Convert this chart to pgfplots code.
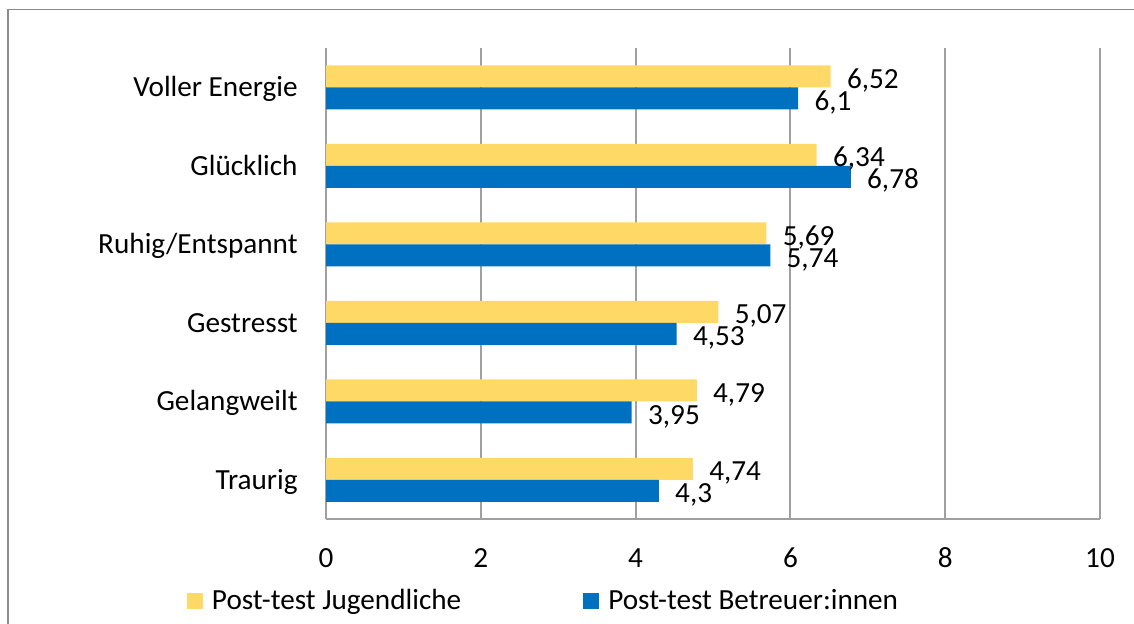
\documentclass[border=0pt]{standalone}
\usepackage{fontspec}
\setmainfont{Carlito}
\usepackage{pgfplots}
\pgfplotsset{compat=1.18}
\definecolor{jug}{HTML}{FFD966}
\definecolor{bet}{HTML}{0070C0}
\definecolor{gridc}{HTML}{A0A0A0}
\definecolor{framec}{HTML}{8C8C8C}
\begin{document}
\begin{tikzpicture}
\useasboundingbox (0,0) rectangle (567pt,-311.5pt);
\draw[framec, line width=0.8pt] (4pt,-320pt) -- (4pt,-4.75pt) -- (580pt,-4.75pt);
\begin{axis}[
  at={(163pt,-259.5pt)}, anchor=south west,
  scale only axis, width=387pt, height=235.5pt,
  font=\fontsize{14.6}{17}\selectfont,
  xmin=0, xmax=10, xtick={0,2,...,10},
  ymin=-0.5, ymax=5.5, ytick={0,...,5},
  yticklabels={Traurig,Gelangweilt,Gestresst,Ruhig/Entspannt,Glücklich,Voller Energie},
  axis x line*=bottom, axis y line*=left,
  axis line style={gridc, line width=1pt, -},
  major tick length=0pt,
  xmajorgrids, major grid style={gridc, line width=1pt},
  xticklabel style={anchor=base, inner sep=0pt, yshift=-24pt},
  yticklabel style={anchor=base east, inner sep=0pt, xshift=-14pt, yshift=-4.75pt},
  /pgf/number format/.cd, use comma, assume math mode=true, /pgfplots/.cd,
  point meta=x,
  nodes near coords,
  nodes near coords style={anchor=base west, inner sep=0pt, xshift=8pt, black},
  legend columns=2,
  legend style={draw=none, fill=none, inner sep=0pt, outer sep=0pt,
    at={(-0.1796,-0.174)}, anchor=west,
    nodes={inner sep=0pt},
    /tikz/every odd column/.append style={column sep=4.5pt},
    /tikz/every even column/.append style={column sep=61pt}},
  legend image code/.code={\fill[#1] (0pt,-4pt) rectangle (8pt,4pt);},
]
\addplot[xbar, bar width=11pt, bar shift=5.5pt, fill=jug, draw=none,
  every node near coord/.append style={yshift=-0.5pt}] coordinates {
(4.74,0) (4.79,1) (5.07,2) (5.69,3) (6.34,4) (6.52,5)};
\addplot[xbar, bar width=11pt, bar shift=-5.5pt, fill=bet, draw=none,
  every node near coord/.append style={yshift=-11.5pt}] coordinates {
(4.3,0) (3.95,1) (4.53,2) (5.74,3) (6.78,4) (6.1,5)};
\legend{Post-test Jugendliche, Post-test Betreuer:innen}
\end{axis}
\end{tikzpicture}
\end{document}
